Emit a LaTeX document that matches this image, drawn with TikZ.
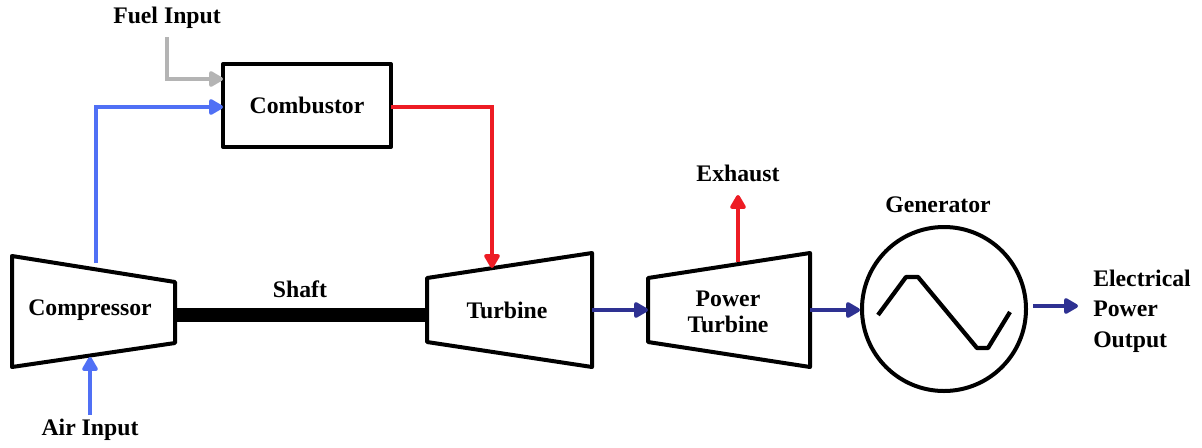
\documentclass[tikz,border=0pt]{standalone}
\usepackage{fontspec}
\setmainfont{Liberation Serif}
\usetikzlibrary{arrows.meta}
\definecolor{airblue}{RGB}{80,112,245}
\definecolor{hotred}{RGB}{237,28,36}
\definecolor{fuelgray}{RGB}{180,180,180}
\definecolor{flowblue}{RGB}{46,49,146}
\begin{document}
\begin{tikzpicture}[x=0.75pt,y=-0.75pt,
  lbl/.style={font=\fontsize{17.8}{20}\selectfont\bfseries, inner sep=0pt, align=center},
  part/.style={draw=black, line width=3pt, line join=round},
  flow/.style={line width=2.8pt, -{Triangle[length=12pt,width=13pt,round]}},
  shaftline/.style={line width=11pt, line cap=butt}]
\useasboundingbox (0,0) rectangle (1202,447);

% Combustor
\node[part, rectangle, minimum width=126pt, minimum height=62pt, lbl] (comb) at (307,105.5) {Combustor};

% Compressor
\draw[part] (12,256) -- (175,282) -- (175,343) -- (12,367) -- cycle;
\node[lbl] (comp) at (90,310) {Compressor};
% Turbine
\draw[part] (427,278) -- (592,253) -- (592,367) -- (427,342) -- cycle;
\node[lbl] (turb) at (507,310) {Turbine};
% Power turbine
\draw[part] (648,278) -- (810,253) -- (810,367) -- (648,342) -- cycle;
\node[lbl] (pturb) at (728,312) {Power\\[0pt]Turbine};
% Generator
\node[draw, circle, line width=3pt, minimum size=123pt, inner sep=0pt] (gen) at (944,309) {};
\draw[line width=3.2pt, line join=round] (878,315) -- (906,277) -- (918,277) -- (977,348) -- (988,348) -- (1010,312);

% labels
\node[lbl] (fuel) at (167,18) {Fuel Input};
\node[lbl] (air) at (90,430) {Air Input};
\node[lbl] (shaftlbl) at (300,289) {Shaft};
\node[lbl] (exh) at (738,173) {Exhaust};
\node[lbl] (genlbl) at (938,205) {Generator};
\node[lbl, align=left, anchor=west] (elec) at (1093,311) {Electrical\\[3pt]Power\\[3pt]Output};

% connector coordinates
\coordinate (fuelS) at (167,37);
\coordinate (fuelE) at (223,79);
\coordinate (compTop) at (96,263);
\coordinate (combInA) at (223,107);
\coordinate (combOut) at (391,107);
\coordinate (turbTop) at (492,268);
\coordinate (airS) at (90,415);
\coordinate (compBot) at (90,357);
\coordinate (compR) at (175,315);
\coordinate (turbL) at (427,315);
\coordinate (turbR) at (592,310);
\coordinate (ptL) at (648,310);
\coordinate (ptR) at (810,310);
\coordinate (genL) at (860,310);
\coordinate (ptTop) at (738,262);
\coordinate (exhE) at (738,195);
\coordinate (genR) at (1033,306);
\coordinate (outE) at (1078,306);

% connectors
\draw[flow, fuelgray] (fuelS) |- (fuelE);
\draw[flow, airblue] (compTop) |- (combInA);
\draw[flow, hotred] (combOut) -| (turbTop);
\draw[flow, airblue] (airS) -- (compBot);
\draw[shaftline] (compR) -- (turbL);
\draw[flow, flowblue] (turbR) -- (ptL);
\draw[flow, flowblue] (ptR) -- (genL);
\draw[flow, hotred] (ptTop) -- (exhE);
\draw[flow, flowblue] (genR) -- (outE);
\end{tikzpicture}
\end{document}
